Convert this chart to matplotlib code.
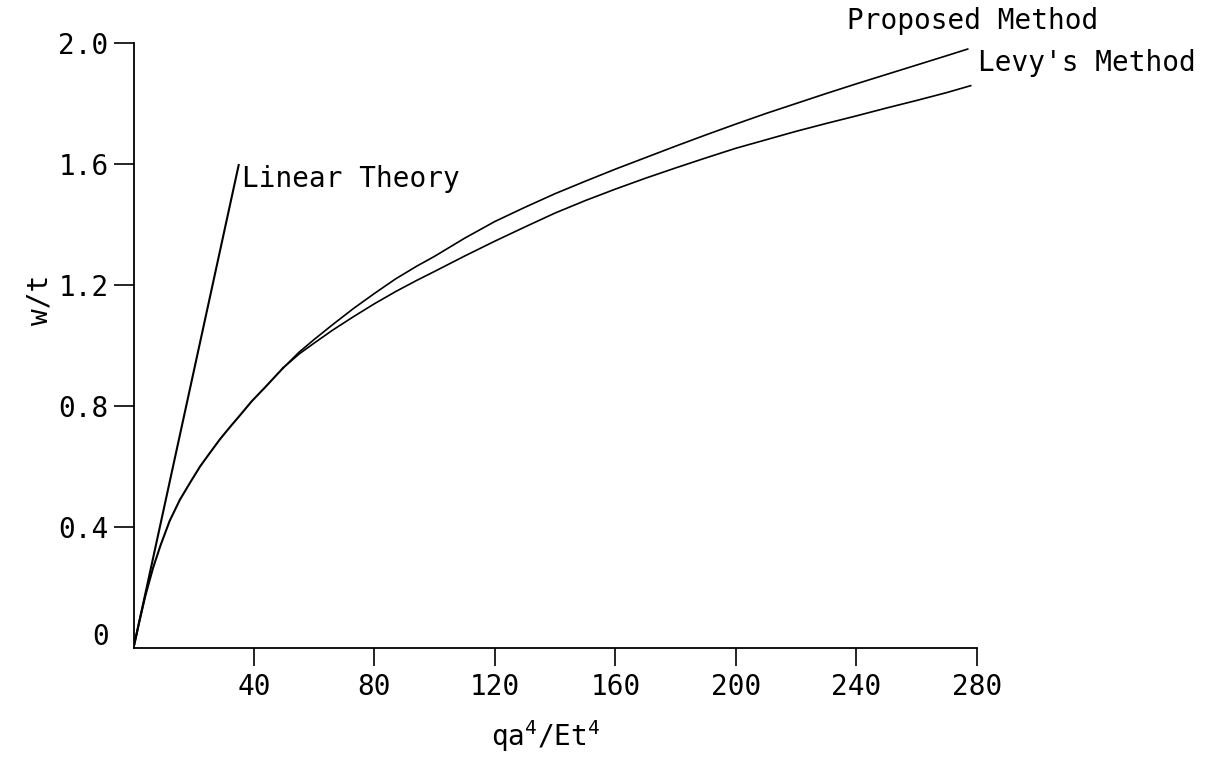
import matplotlib
matplotlib.use("Agg")
import matplotlib.pyplot as plt

# ---- data ----
linear_x = [0, 35]
linear_y = [0, 1.6]

shared_x = [0, 2, 4, 6.5, 9, 12, 15.4, 19, 22.1, 25, 28.7, 32, 35, 39.2, 44, 49.6]
shared_y = [0, 0.09, 0.175, 0.265, 0.34, 0.42, 0.49, 0.55, 0.60, 0.64, 0.69, 0.73, 0.765, 0.815, 0.865, 0.925]

proposed_x = [49.6, 55, 60, 66, 73, 80, 87, 94, 100, 110, 120, 130, 140, 150, 160, 170, 180,
              190, 200, 210, 220, 230, 240, 250, 260, 270, 277]
proposed_y = [0.925, 0.978, 1.02, 1.068, 1.122, 1.172, 1.22, 1.262, 1.295, 1.355, 1.41, 1.457,
              1.502, 1.543, 1.583, 1.621, 1.659, 1.696, 1.732, 1.767, 1.8, 1.833, 1.865, 1.896,
              1.927, 1.958, 1.98]

levy_x = [49.6, 55, 60, 66, 73, 80, 87, 94, 100, 110, 120, 130, 140, 150, 160, 170, 180,
          190, 200, 210, 220, 230, 240, 250, 260, 270, 278]
levy_y = [0.925, 0.972, 1.008, 1.05, 1.095, 1.138, 1.178, 1.215, 1.245, 1.296, 1.345, 1.392,
          1.438, 1.479, 1.517, 1.553, 1.587, 1.62, 1.652, 1.68, 1.708, 1.734, 1.759, 1.785,
          1.81, 1.836, 1.859]

xticks = [40, 80, 120, 160, 200, 240, 280]
yticks = [0.4, 0.8, 1.2, 1.6, 2.0]
ytick_labels = ["0.4", "0.8", "1.2", "1.6", "2.0"]

FONT = "DejaVu Sans Mono"
FS = 20

plt.rcParams['font.family'] = [FONT]
plt.rcParams['mathtext.fontset'] = 'custom'
plt.rcParams['mathtext.rm'] = FONT
plt.rcParams['mathtext.it'] = FONT

fig = plt.figure(figsize=(12.06, 7.75), dpi=100)
ax = fig.add_axes([0.1107, 0.1639, 0.8099 - 0.1107, 0.9445 - 0.1639])

lw = 1.2
ax.plot(linear_x, linear_y, color='black', lw=lw + 0.3, solid_capstyle='butt')
ax.plot(shared_x, shared_y, color='black', lw=lw + 0.3, solid_joinstyle='round')
ax.plot(proposed_x, proposed_y, color='black', lw=lw, solid_joinstyle='round')
ax.plot(levy_x, levy_y, color='black', lw=lw, solid_joinstyle='round')

ax.set_xlim(0, 280)
ax.set_ylim(0, 2.0)

for s in ['top', 'right']:
    ax.spines[s].set_visible(False)
for s in ['left', 'bottom']:
    ax.spines[s].set_linewidth(1.3)

ax.set_xticks(xticks)
ax.set_xticklabels([str(v) for v in xticks], fontsize=FS)
ax.set_yticks(yticks)
ax.set_yticklabels(ytick_labels, fontsize=FS)
ax.tick_params(axis='x', direction='out', length=13, width=1.2, pad=5)
ax.tick_params(axis='y', direction='out', length=14.5, width=1.2, pad=3.5)

# "0" label at origin (no tick)
ax.text(-0.029, 0.035, "0", transform=ax.get_yaxis_transform(), fontsize=FS,
        ha='right', va='center')

# curve labels
ax.text(36, 1.523, "Linear Theory", fontsize=FS, ha='left', va='baseline', clip_on=False)
ax.text(236.8, 2.046, "Proposed Method", fontsize=FS, ha='left', va='baseline', clip_on=False)
ax.text(280.4, 1.906, "Levy's Method", fontsize=FS, ha='left', va='baseline', clip_on=False)

# axis labels
fig.text(40 / 1206, 1 - 300 / 775, "w/t", rotation=90, fontsize=FS, ha='center', va='center')
fig.text(546 / 1206, 1 - 746 / 775, "qa$^4$/Et$^4$", fontsize=FS, ha='center', va='baseline')

fig.savefig("out.png", dpi=100)
